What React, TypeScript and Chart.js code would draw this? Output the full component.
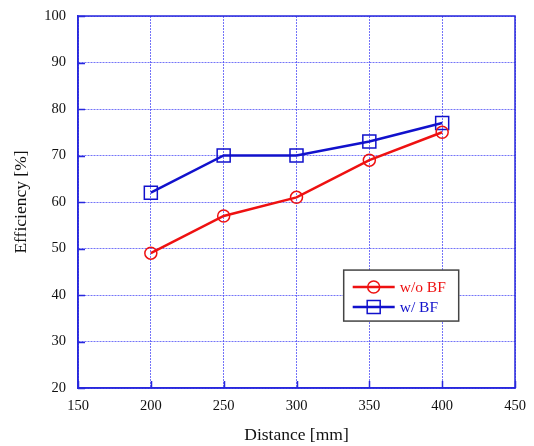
import React, { useEffect, useRef } from "react";
import { Chart, registerables } from "chart.js";

Chart.register(...registerables);

const distances = [200, 250, 300, 350, 400];
const withoutBF = [49, 57, 61, 69, 75];
const withBF = [62, 70, 70, 73, 77];
const seriesNames = ["w/o BF", "w/ BF"];
const seriesColors = ["#ee1111", "#1111cc"];
const xTitle = "Distance [mm]";
const yTitle = "Efficiency [%]";

const FONT = "'Liberation Serif', 'DejaVu Serif', serif";
const AXIS_BLUE = "#2828dd";

const framePlugin = {
  id: "frameAndLegend",
  afterDraw(chart: any) {
    const { ctx, chartArea: a } = chart;
    const xs = chart.scales.x;
    const ys = chart.scales.y;
    ctx.save();
    // inward ticks
    ctx.strokeStyle = AXIS_BLUE;
    ctx.lineWidth = 1.5;
    ctx.setLineDash([]);
    ctx.beginPath();
    ys.ticks.forEach((t: any) => {
      const y = Math.round(ys.getPixelForValue(t.value)) + 0.5;
      ctx.moveTo(a.left, y);
      ctx.lineTo(a.left + 7, y);
    });
    xs.ticks.forEach((t: any) => {
      const x = Math.round(xs.getPixelForValue(t.value)) + 0.5;
      ctx.moveTo(x, a.bottom);
      ctx.lineTo(x, a.bottom - 7);
    });
    ctx.stroke();
    // frame
    ctx.strokeRect(a.left, a.top, a.right - a.left, a.bottom - a.top);

    // legend box
    const w = a.right - a.left;
    const h = a.bottom - a.top;
    const bx = a.left + w * 0.608;
    const by = a.top + h * 0.683;
    const bw = 115;
    const bh = 51;
    ctx.fillStyle = "#ffffff";
    ctx.fillRect(bx, by, bw, bh);
    ctx.strokeStyle = "#444444";
    ctx.lineWidth = 1.5;
    ctx.strokeRect(bx, by, bw, bh);

    const rows = [by + 17, by + 37];
    seriesNames.forEach((name, i) => {
      const y = rows[i];
      const col = seriesColors[i];
      ctx.strokeStyle = col;
      ctx.lineWidth = 2.5;
      ctx.beginPath();
      ctx.moveTo(bx + 9, y);
      ctx.lineTo(bx + 51, y);
      ctx.stroke();
      ctx.lineWidth = 1.5;
      ctx.beginPath();
      if (i === 0) {
        ctx.arc(bx + 30, y, 6, 0, Math.PI * 2);
      } else {
        ctx.rect(bx + 30 - 6.5, y - 6.5, 13, 13);
      }
      ctx.stroke();
      ctx.fillStyle = col;
      ctx.font = `15.5px ${FONT}`;
      ctx.textBaseline = "middle";
      ctx.textAlign = "left";
      ctx.fillText(name, bx + 56, y + 1);
    });
    ctx.restore();
  },
};

export default function App() {
  const ref = useRef<HTMLCanvasElement>(null);
  useEffect(() => {
    document.body.style.margin = "0";
    const chart = new Chart(ref.current as HTMLCanvasElement, {
      type: "line",
      data: {
        datasets: [
          {
            label: seriesNames[0],
            data: distances.map((d, i) => ({ x: d, y: withoutBF[i] })),
            borderColor: seriesColors[0],
            backgroundColor: "rgba(0,0,0,0)",
            borderWidth: 2.5,
            pointStyle: "circle",
            pointRadius: 6,
            pointBorderWidth: 1.5,
            pointBorderColor: seriesColors[0],
            pointBackgroundColor: "rgba(0,0,0,0)",
            tension: 0,
          },
          {
            label: seriesNames[1],
            data: distances.map((d, i) => ({ x: d, y: withBF[i] })),
            borderColor: seriesColors[1],
            backgroundColor: "rgba(0,0,0,0)",
            borderWidth: 2.5,
            pointStyle: "rect",
            pointRadius: 9.2,
            pointBorderWidth: 1.5,
            pointBorderColor: seriesColors[1],
            pointBackgroundColor: "rgba(0,0,0,0)",
            tension: 0,
          },
        ],
      },
      options: {
        responsive: false,
        animation: false,
        layout: { padding: { top: 16, right: 19, left: 0, bottom: 0 } },
        plugins: { legend: { display: false }, tooltip: { enabled: false } },
        scales: {
          x: {
            type: "linear",
            min: 150,
            max: 450,
            ticks: { stepSize: 50, color: "#111", font: { family: FONT, size: 14.5 }, padding: 9, maxRotation: 0 },
            grid: { color: "rgba(70,70,245,0.75)", lineWidth: 1, drawTicks: false },
            border: { dash: [2, 1], color: AXIS_BLUE, width: 1.5 },
            title: { display: true, text: xTitle, color: "#111", font: { family: FONT, size: 17.5 }, padding: { top: 0, bottom: 0 } },
            afterFit: (s: any) => {
              s.height = 58;
              s.paddingLeft = 0;
              s.paddingRight = 0;
            },
          },
          y: {
            type: "linear",
            min: 20,
            max: 100,
            ticks: { stepSize: 10, color: "#111", font: { family: FONT, size: 14.5 }, padding: 12 },
            grid: { color: "rgba(70,70,245,0.75)", lineWidth: 1, drawTicks: false },
            border: { dash: [2, 1], color: AXIS_BLUE, width: 1.5 },
            title: { display: true, text: yTitle, color: "#111", font: { family: FONT, size: 17.5 }, padding: { top: 11, bottom: 0 } },
            afterFit: (s: any) => {
              s.width = 78;
              s.paddingTop = 0;
              s.paddingBottom = 0;
            },
          },
        },
      },
      plugins: [framePlugin],
    } as any);
    return () => chart.destroy();
  }, []);
  return <canvas ref={ref} width={534} height={446} />;
}
